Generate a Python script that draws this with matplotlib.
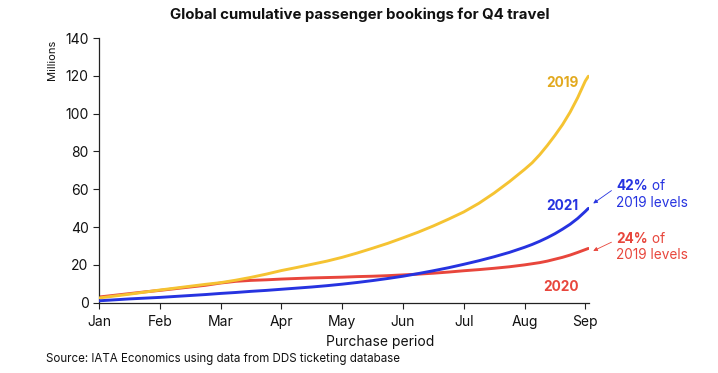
import numpy as np
import matplotlib
matplotlib.use("Agg")
import matplotlib.pyplot as plt

plt.rcParams['font.family'] = ['Inter', 'DejaVu Sans']

# Purchase period in months after 1 Jan (0 = Jan, 8 = Sep)
months = [0.0, 0.25, 0.5, 0.75, 1.0, 1.25, 1.5, 1.75, 2.0, 2.25, 2.5, 2.75,
          3.0, 3.25, 3.5, 3.75, 4.0, 4.25, 4.5, 4.75, 5.0, 5.25, 5.5, 5.75,
          6.0, 6.25, 6.5, 6.75, 7.0, 7.125, 7.25, 7.375, 7.5, 7.625, 7.75,
          7.875, 8.0, 8.05]

# Cumulative bookings, millions
bookings_2019 = [2.5, 3.5, 4.5, 5.6, 6.7, 7.7, 8.7, 9.7, 10.6, 11.9, 13.4, 15.1,
                 17.0, 18.6, 20.3, 22.0, 24.0, 26.3, 28.8, 31.4, 34.3, 37.3, 40.6, 44.2,
                 48.0, 52.6, 58.0, 64.0, 70.5, 74.0, 78.3, 83.2, 88.5, 94.2, 100.8,
                 108.5, 117.3, 119.8]
bookings_2020 = [3.0, 3.9, 4.8, 5.7, 6.5, 7.4, 8.3, 9.2, 10.4, 11.3, 11.8, 12.1,
                 12.5, 12.8, 13.1, 13.3, 13.5, 13.8, 14.0, 14.3, 14.7, 15.1, 15.6, 16.2,
                 16.9, 17.5, 18.2, 19.0, 20.0, 20.6, 21.2, 22.0, 23.0, 24.0, 25.2,
                 26.6, 28.1, 28.7]
bookings_2021 = [1.0, 1.5, 2.0, 2.4, 2.8, 3.3, 3.8, 4.3, 4.9, 5.4, 6.0, 6.5,
                 7.1, 7.7, 8.3, 9.0, 9.8, 10.7, 11.7, 12.8, 14.0, 15.4, 16.9, 18.5,
                 20.3, 22.2, 24.3, 26.6, 29.3, 30.8, 32.5, 34.4, 36.5, 38.9, 41.5,
                 44.6, 48.3, 49.9]

month_labels = ['Jan', 'Feb', 'Mar', 'Apr', 'May', 'Jun', 'Jul', 'Aug', 'Sep']

yellow = '#F5C332'
yellow_txt = '#E2A91E'
red = '#E8463C'
blue = '#2633E0'

fig = plt.figure(figsize=(7.18, 3.73), dpi=100)
ax = fig.add_axes([0.1379, 0.1885, 0.6824, 0.7095])

ax.plot(months, bookings_2019, color=yellow, lw=2.1, solid_capstyle='round', zorder=3)
ax.plot(months, bookings_2020, color=red, lw=2.1, solid_capstyle='round', zorder=2)
ax.plot(months, bookings_2021, color=blue, lw=2.1, solid_capstyle='round', zorder=4)

ax.set_xlim(0, 8.06)
ax.set_ylim(0, 140)
ax.set_xticks(range(len(month_labels)))
ax.set_xticklabels(month_labels)
ax.set_yticks(range(0, 141, 20))
ax.tick_params(labelsize=10, length=4, width=0.8, color='#222222', labelcolor='#111111')
ax.tick_params(axis='x', pad=5)
for s in ['top', 'right']:
    ax.spines[s].set_visible(False)
for s in ['left', 'bottom']:
    ax.spines[s].set_color('#222222')
    ax.spines[s].set_linewidth(0.9)

# series labels
ax.text(7.89, 116, '2019', color=yellow_txt, fontsize=9.8, fontweight='bold', ha='right', va='center')
ax.text(7.89, 51, '2021', color=blue, fontsize=9.8, fontweight='bold', ha='right', va='center')
ax.text(7.89, 8.5, '2020', color=red, fontsize=9.8, fontweight='bold', ha='right', va='center')

# share of 2019 annotations
for pct, y1, y2, col, tail, head in [('42%', 61.6, 52.7, blue, (8.43, 59.3), (8.13, 52.5)),
                                     ('24%', 33.6, 25.2, red, (8.43, 32.0), (8.13, 27.4))]:
    t = ax.text(8.51, y1, pct, color=col, fontsize=9.8, fontweight='bold',
                ha='left', va='center', clip_on=False)
    ax.annotate(' of', xy=(1, 0), xycoords=t, color=col, fontsize=9.8,
                ha='left', va='bottom', annotation_clip=False)
    ax.text(8.51, y2, '2019 levels', color=col, fontsize=9.8, ha='left', va='center', clip_on=False)
    ax.annotate('', xy=head, xytext=tail, annotation_clip=False,
                arrowprops=dict(arrowstyle='-|>', color=col, lw=0.6,
                                mutation_scale=6, shrinkA=0, shrinkB=0))

fig.text(0.5015, 0.96, 'Global cumulative passenger bookings for Q4 travel',
         ha='center', va='center', fontsize=10.8, fontweight='bold', color='#111111')
fig.text(0.0725, 0.84, 'Millions', rotation=90, ha='center', va='center', fontsize=8, color='#111111')
fig.text(0.529, 0.084, 'Purchase period', ha='center', va='center', fontsize=10, color='#111111')
fig.text(0.0635, 0.037, 'Source: IATA Economics using data from DDS ticketing database',
         ha='left', va='center', fontsize=8.3, color='#111111')

fig.savefig('out.png', dpi=100)
